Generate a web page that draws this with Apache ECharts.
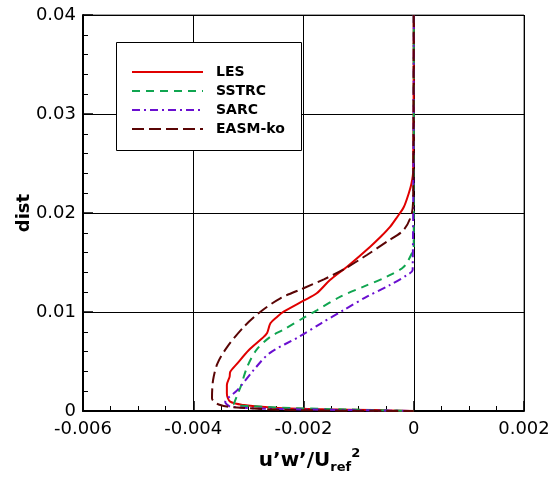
<!DOCTYPE html>
<html><head><meta charset="utf-8">
<script src="https://cdn.jsdelivr.net/npm/echarts@6/dist/echarts.min.js"></script>
<style>html,body{margin:0;padding:0;background:#fff}#c{width:559px;height:479px}</style>
</head><body><div id="c"></div>
<script>
const seriesNames = ['LES', 'SSTRC', 'SARC', 'EASM-ko'];
const xTicks = [-0.006, -0.004, -0.002, 0, 0.002];
const yTicks = [0, 0.01, 0.02, 0.03, 0.04];

const lesDist = [0.04, 0.0243, 0.023, 0.022, 0.0206, 0.0196, 0.0186, 0.0176, 0.0166, 0.01458, 0.01323, 0.01189, 0.01114, 0.01003, 0.0095, 0.00886, 0.00788, 0.00734, 0.00616, 0.00481, 0.00394, 0.00347, 0.00263, 0.00178, 0.00094, 0.0006, 0.00034, 0.00017, 0.0001, 0];
const lesVal  = [0, -0.00001, -0.00004, -0.00009, -0.00018, -0.0003, -0.00043, -0.0006, -0.00079, -0.00121, -0.00152, -0.00176, -0.002, -0.00236, -0.00248, -0.0026, -0.00266, -0.00275, -0.00299, -0.0032, -0.00333, -0.00334, -0.00339, -0.00339, -0.00333, -0.00308, -0.00254, -0.00163, -0.00073, 0];

const sstDist = [0.04, 0.0166, 0.0161, 0.01458, 0.01357, 0.01256, 0.01155, 0.0102, 0.0094, 0.0082, 0.0075, 0.0062, 0.00448, 0.00245, 0.0019, 0.0007, 0.0005, 0.0003, 0.00015, 0];
const sstVal  = [0, 0, -0.00002, -0.00018, -0.00049, -0.00091, -0.00133, -0.00175, -0.002, -0.00237, -0.0026, -0.00285, -0.00302, -0.00314, -0.00318, -0.00326, -0.00296, -0.0022, -0.0012, 0];

const sarDist = [0.04, 0.01424, 0.01374, 0.01273, 0.01155, 0.0102, 0.00886, 0.0075, 0.00582, 0.0041, 0.0021, 0.0009, 0.00043, 0.0002, 0.0001, 0];
const sarVal  = [0, -0.00002, -0.00012, -0.00043, -0.00085, -0.00127, -0.00168, -0.00208, -0.00262, -0.00291, -0.0032, -0.00342, -0.00332, -0.0024, -0.0012, 0];

const easDist = [0.04, 0.022, 0.0201, 0.0183, 0.0171, 0.01576, 0.01431, 0.0133, 0.0124, 0.01138, 0.01003, 0.00852, 0.0065, 0.00481, 0.00313, 0.0013, 0.0006, 0.00034, 0.0001, 0];
const easVal  = [0, -0.00001, -0.00003, -0.00018, -0.00049, -0.00085, -0.00127, -0.00163, -0.002, -0.00242, -0.00278, -0.00308, -0.00338, -0.00356, -0.00364, -0.00366, -0.00351, -0.00314, -0.00224, 0];

function pairs(v, d){ return v.map((x,i)=>[x, d[i]]); }

const styles = [
  {color:'#e00000', type:'solid'},
  {color:'#10a550', type:[8,6]},
  {color:'#6a0fd0', type:[8,4,2,4]},
  {color:'#5a0505', type:[12,5]}
];
const dataSets = [pairs(lesVal,lesDist), pairs(sstVal,sstDist), pairs(sarVal,sarDist), pairs(easVal,easDist)];

const chart = echarts.init(document.getElementById('c'), null, {renderer:'canvas'});
const fam = 'DejaVu Sans, sans-serif';
chart.setOption({
  animation:false,
  backgroundColor:'#fff',
  grid:{left:83, right:35, top:15, bottom:68, show:true, borderColor:'#444', borderWidth:1, containLabel:false, outerBoundsMode:'none'},
  graphic:[{type:'rect', shape:{x:116.5, y:42.5, width:185, height:108}, style:{fill:'#fff', stroke:'#000', lineWidth:1}, z:90}],
  legend:{
    orient:'vertical', left:131, top:65, itemWidth:71, itemHeight:14, itemGap:5, padding:0, z:100,
    data:seriesNames.map(n=>({name:n, itemStyle:{opacity:0}})),
    textStyle:{fontFamily:fam, fontSize:14, fontWeight:'bold', color:'#000', padding:[0,0,0,8]}
  },
  xAxis:{
    type:'value', min:-0.006, max:0.002, interval:0.002,
    name:'u\u2019w\u2019/U{sub|ref}{sup|2}', nameLocation:'middle', nameGap:36, nameMoveOverlap:false,
    nameTextStyle:{fontFamily:fam, fontSize:20, fontWeight:'bold', color:'#000', padding:[0,0,0,12],
      rich:{sub:{fontFamily:fam, fontSize:13, fontWeight:'bold', color:'#000', verticalAlign:'bottom', padding:[14,0,0,0]},
            sup:{fontFamily:fam, fontSize:13, fontWeight:'bold', color:'#000', verticalAlign:'top', padding:[0,0,14,0]}}},
    axisLine:{show:true, onZero:false, lineStyle:{color:'#000', width:2}},
    axisTick:{show:true, inside:true, length:10, lineStyle:{color:'#000', width:1.5}},
    minorTick:{show:true, splitNumber:4, length:5, lineStyle:{color:'#000', width:1}},
    splitLine:{show:true, lineStyle:{color:'#000', width:1}},
    axisLabel:{fontFamily:fam, fontSize:18, color:'#000', margin:9,
      formatter:v=>{ const t = xTicks.find(x=>Math.abs(x-v)<1e-9); return t===0?'0':String(+(t.toFixed(3))); }}
  },
  yAxis:{
    type:'value', min:0, max:0.04, interval:0.01,
    name:'dist', nameLocation:'middle', nameGap:50, nameMoveOverlap:false,
    nameTextStyle:{fontFamily:fam, fontSize:18, fontWeight:'bold', color:'#000'},
    axisLine:{show:true, onZero:false, lineStyle:{color:'#000', width:2}},
    axisTick:{show:true, inside:true, length:10, lineStyle:{color:'#000', width:1.5}},
    minorTick:{show:true, splitNumber:5, length:5, lineStyle:{color:'#000', width:1}},
    splitLine:{show:true, lineStyle:{color:'#000', width:1}},
    axisLabel:{fontFamily:fam, fontSize:18, color:'#000', margin:7,
      formatter:v=>{ const t = yTicks.find(x=>Math.abs(x-v)<1e-9); return t===0?'0':String(+(t.toFixed(2))); }}
  },
  series: seriesNames.map((n,i)=>({
    name:n, type:'line', data:dataSets[i], showSymbol:false, symbol:'none', smooth:0.3,
    clip:true, z:10+i,
    lineStyle:{color:styles[i].color, type:styles[i].type, width:2},
    itemStyle:{color:styles[i].color}
  }))
});
</script></body></html>
